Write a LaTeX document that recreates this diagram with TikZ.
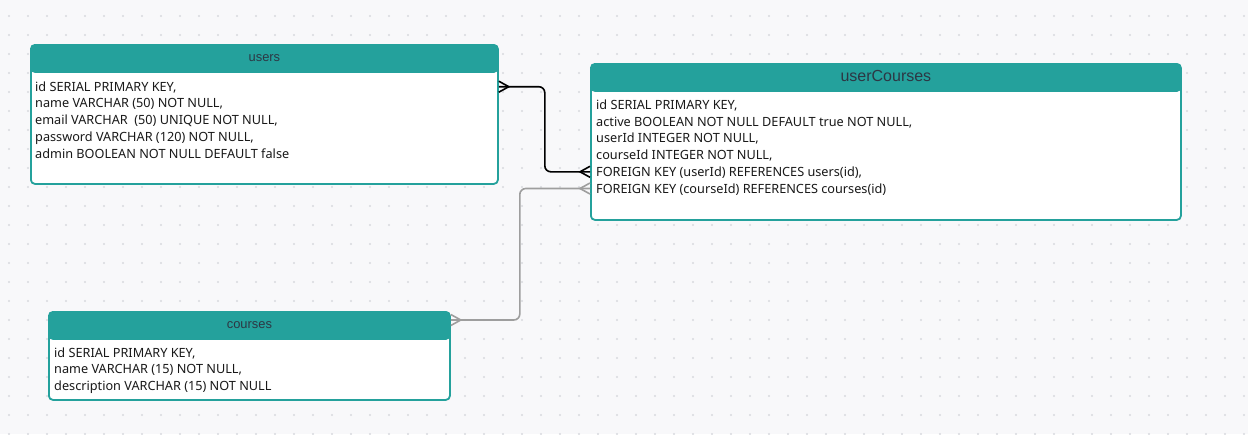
\documentclass[tikz,border=0pt]{standalone}
\usepackage{fontspec}
\setmainfont{Noto Sans}
\newfontfamily\headfont{Liberation Sans}
\usetikzlibrary{positioning, calc}

\definecolor{tealhead}{RGB}{36,161,156}
\definecolor{headtext}{RGB}{45,55,68}
\definecolor{rowtext}{RGB}{25,25,25}
\definecolor{bgpaper}{RGB}{248,248,250}
\definecolor{griddot}{RGB}{216,217,222}
\definecolor{linkgray}{RGB}{158,158,158}

% crow's foot at a box side: point, offset of the vertex, colour
\newcommand{\crowsfoot}[3]{
  \draw[#3, line width=1.6pt] ($(#1)+(0,-5.5)$) -- ($(#1)+(#2,0)$) -- ($(#1)+(0,5.5)$);}

\begin{document}
\begin{tikzpicture}[x=1pt, y=-1pt,
  tablebox/.style={draw=tealhead, line width=1.8pt, fill=white, rounded corners=4pt,
    inner sep=0pt, anchor=north west,
    path picture={\fill[tealhead] (path picture bounding box.north west)
      rectangle ([yshift=-28pt]path picture bounding box.north east);}},
  tabletitle/.style={inner sep=0pt, text height=7pt, text depth=0pt, text=headtext,
    font=\headfont\fontsize{12.9}{15}\selectfont},
  tablerow/.style={anchor=west, inner sep=0pt, text height=9pt, text depth=0pt,
    text=rowtext, font=\fontsize{12.7}{15}\selectfont},
  link/.style={line width=1.6pt, rounded corners=6pt}]

  \useasboundingbox[fill=bgpaper] (0,0) rectangle (1248,434);
  \foreach \i in {0,...,65}
    \foreach \j in {0,...,22}
      \fill[griddot] ({9+19*\i},{16+19*\j}) circle[radius=1.1pt];

  % tables
  \node[tablebox, minimum width=467pt, minimum height=139pt] (users) at (30,44) {};
  \node[tabletitle] (users-title) at ([yshift=-14pt]users.north) {users};
  \foreach \i/\t in {1/{id SERIAL PRIMARY KEY,}, 2/{name VARCHAR (50) NOT NULL,},
      3/{email VARCHAR~ (50) UNIQUE NOT NULL,}, 4/{password VARCHAR (120) NOT NULL,},
      5/{admin BOOLEAN NOT NULL DEFAULT false}}
    \node[tablerow] (users-\i) at (35,{86.7+16.7*(\i-1)}) {\t};

  \node[tablebox, minimum width=590pt, minimum height=156pt] (uc) at (590,63) {};
  \node[tabletitle, text height=8pt, font=\headfont\fontsize{16}{19}\selectfont]
    (uc-title) at ([yshift=-14pt]uc.north) {userCourses};
  \foreach \i/\t in {1/{id SERIAL PRIMARY KEY,}, 2/{active BOOLEAN NOT NULL DEFAULT true NOT NULL,},
      3/{userId INTEGER NOT NULL,}, 4/{courseId INTEGER NOT NULL,},
      5/{FOREIGN KEY (userId) REFERENCES users(id),},
      6/{FOREIGN KEY (courseId) REFERENCES courses(id)}}
    \node[tablerow] (uc-\i) at (596,{105+16.7*(\i-1)}) {\t};

  \node[tablebox, minimum width=401pt, minimum height=88pt] (courses) at (48,311) {};
  \node[tabletitle] (courses-title) at ([yshift=-14pt]courses.north) {courses};
  \foreach \i/\t in {1/{id SERIAL PRIMARY KEY,}, 2/{name VARCHAR (15) NOT NULL,},
      3/{description VARCHAR (15) NOT NULL}}
    \node[tablerow] (courses-\i) at (54,{352.7+16.7*(\i-1)}) {\t};

  % relations
  \draw[link] (users.east |- users-1) -- ++(46,0) |- (uc.west |- uc-5);
  \crowsfoot{users.east |- users-1}{10}{black}
  \crowsfoot{uc.west |- uc-5}{-10}{black}

  \coordinate (courses-out) at ([yshift=5pt]courses.east |- courses-title);
  \draw[link, linkgray] (courses-out) -- ++(69,0) |- (uc.west |- uc-6);
  \crowsfoot{courses-out}{10}{linkgray}
  \crowsfoot{uc.west |- uc-6}{-10}{linkgray}
\end{tikzpicture}
\end{document}
